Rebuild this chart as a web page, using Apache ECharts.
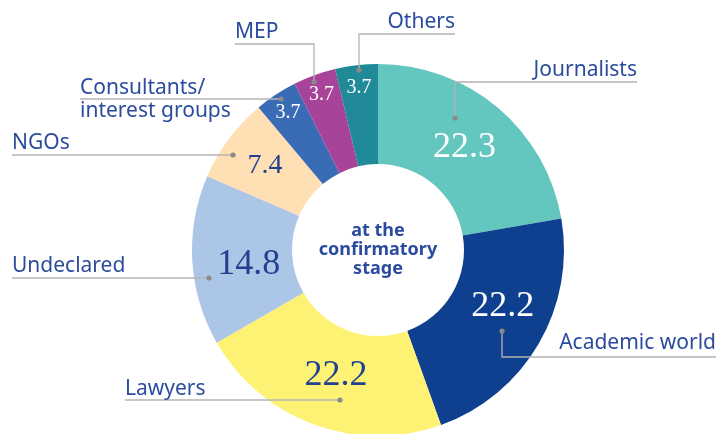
<!DOCTYPE html>
<html>
<head>
<meta charset="utf-8">
<script src="https://cdn.jsdelivr.net/npm/echarts@6/dist/echarts.min.js"></script>
<style>
html,body{margin:0;padding:0;background:#fff;}
#chart{width:719px;height:434px;}
</style>
</head>
<body>
<div id="chart"></div>
<script>
// ---- data ----
const CATEGORIES = ['Journalists', 'Academic world', 'Lawyers', 'Undeclared', 'NGOs', 'Consultants/interest groups', 'MEP', 'Others'];
const VALUES = [22.3, 22.2, 22.2, 14.8, 7.4, 3.7, 3.7, 3.7];
const CENTER_TEXT = 'at the\nconfirmatory\nstage';

// ---- styles / layout ----
const COLORS = ['#63c6bf', '#0e408f', '#fef275', '#abc6e6', '#ffdfb4', '#3a6bb5', '#a8439a', '#218a99'];
const VALUE_COLORS = ['#ffffff', '#ffffff', '#22408f', '#22408f', '#22408f', '#ffffff', '#ffffff', '#ffffff'];
const VALUE_SIZES = [36, 36, 36, 36, 28, 20, 20, 20];
const VALUE_RADIUS = [134, 137, 132, 130, 141, 164, 165, 163];
const VALUE_DANGLE = [0, -5.7, -1.6, -3.4, 0, 0, 0, 0];
const CX = 378, CY = 250, R0 = 86, R1 = 186;
const TEXT_COLOR = '#2b4b9e';
const LEADERS = [
  {pts: [[455, 118], [455, 82], [637, 82]], tx: 637, ty: 70, align: 'right'},
  {pts: [[502, 331], [502, 357], [716, 357]], tx: 716, ty: 343, align: 'right'},
  {pts: [[340, 400], [125, 400], [125, 400]], tx: 125, ty: 389, align: 'left'},
  {pts: [[209, 278], [12, 278], [12, 278]], tx: 12, ty: 266, align: 'left'},
  {pts: [[233, 155], [12, 155], [12, 155]], tx: 12, ty: 143, align: 'left'},
  {pts: [[281, 99], [80, 99], [80, 99]], tx: 80, ty: 100, align: 'left'},
  {pts: [[314, 82], [314, 44], [235, 44]], tx: 235, ty: 32, align: 'left'},
  {pts: [[359, 70], [359, 34], [455, 34]], tx: 455, ty: 22, align: 'right'}
];

const total = VALUES.reduce((a, b) => a + b, 0);
const midAngles = [];
let acc = 0;
VALUES.forEach(v => { midAngles.push((acc + v / 2) / total * 360); acc += v; });

const chart = echarts.init(document.getElementById('chart'), null, {renderer: 'canvas'});

const mainData = CATEGORIES.map((n, i) => ({
  name: n, value: VALUES[i],
  itemStyle: {color: COLORS[i]},
  label: {color: VALUE_COLORS[i], fontSize: VALUE_SIZES[i]}
}));
const annoData = CATEGORIES.map((n, i) => ({name: n, value: VALUES[i]}));

const option = {
  animation: false,
  backgroundColor: '#ffffff',
  series: [
    {
      type: 'pie',
      center: [CX, CY],
      radius: [R0, R1],
      startAngle: 90,
      clockwise: true,
      avoidLabelOverlap: false,
      silent: true,
      emphasis: {disabled: true},
      itemStyle: {borderWidth: 0},
      label: {
        show: true,
        position: 'inside',
        fontFamily: 'Liberation Serif',
        formatter: p => String(p.value)
      },
      labelLine: {show: false},
      labelLayout: function (params) {
        const i = params.dataIndex;
        const a = (midAngles[i] + VALUE_DANGLE[i]) * Math.PI / 180;
        const r = VALUE_RADIUS[i];
        return {x: CX + r * Math.sin(a), y: CY - r * Math.cos(a), align: 'center', verticalAlign: 'middle'};
      },
      data: mainData
    },
    {
      type: 'pie',
      z: 5,
      center: [CX, CY],
      radius: [R0, R1],
      startAngle: 90,
      clockwise: true,
      avoidLabelOverlap: false,
      silent: true,
      emphasis: {disabled: true},
      itemStyle: {color: 'rgba(0,0,0,0)'},
      label: {
        show: true,
        position: 'outside',
        fontFamily: 'Noto Sans',
        fontSize: 21,
        color: TEXT_COLOR,
        lineHeight: 23,
        formatter: p => p.name.replace('/', '/\n')
      },
      labelLine: {show: true, lineStyle: {color: '#b4b4b4', width: 1.3}},
      labelLayout: function (params) {
        const L = LEADERS[params.dataIndex];
        return {x: L.tx, y: L.ty, align: L.align, verticalAlign: 'middle', labelLinePoints: L.pts};
      },
      data: annoData
    }
  ],
  graphic: [
    {
      type: 'text', z: 100, x: CX, y: CY,
      style: {
        text: CENTER_TEXT, fill: TEXT_COLOR,
        font: 'bold 18px "Noto Sans"', lineHeight: 19,
        textAlign: 'center', textVerticalAlign: 'middle'
      }
    }
  ].concat(LEADERS.map(L => ({
    type: 'circle', z: 100,
    shape: {cx: L.pts[0][0], cy: L.pts[0][1], r: 2.6},
    style: {fill: '#8a8a8a'}
  })))
};
chart.setOption(option);
</script>
</body>
</html>
